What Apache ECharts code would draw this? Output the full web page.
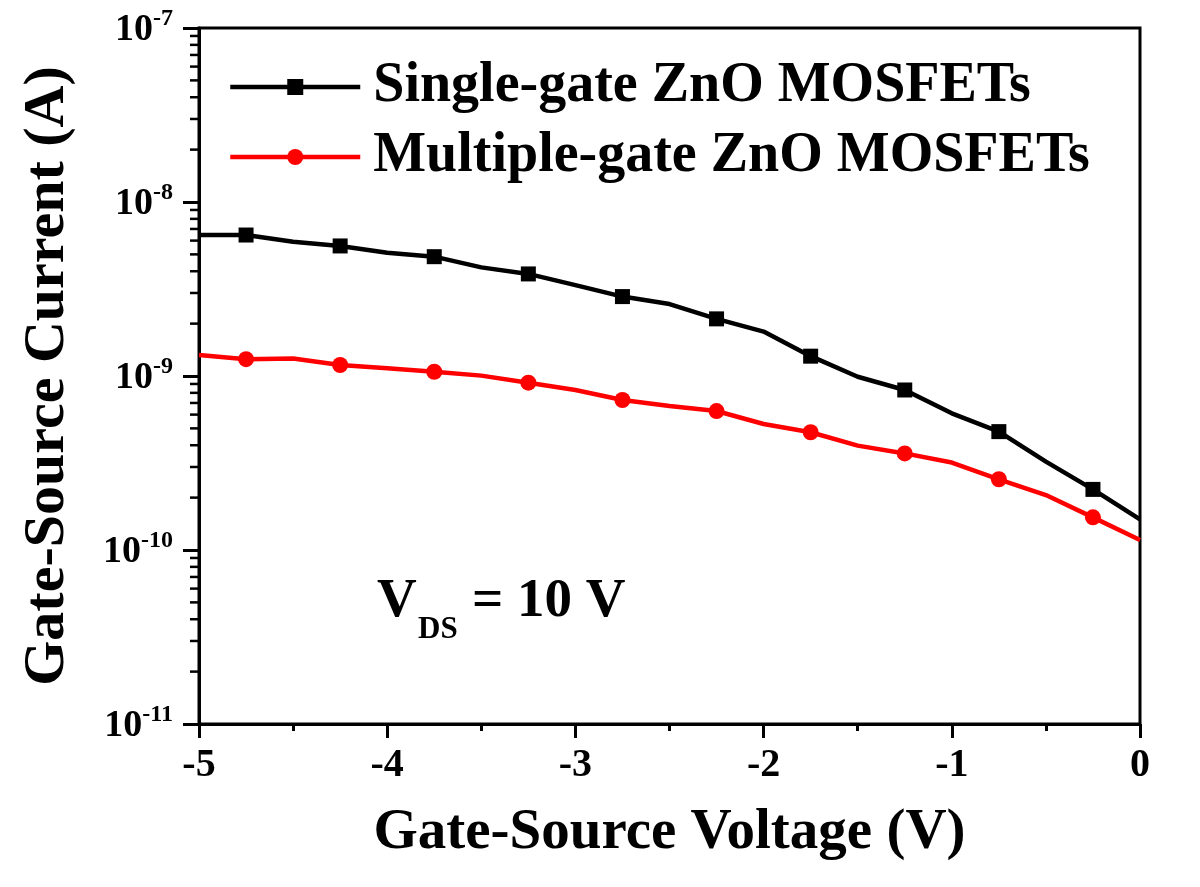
<!DOCTYPE html>
<html>
<head>
<meta charset="utf-8">
<script src="https://cdn.jsdelivr.net/npm/echarts@6/dist/echarts.min.js"></script>
<style>
html,body{margin:0;padding:0;background:#fff;}
#chart{width:1200px;height:887px;}
</style>
</head>
<body>
<div id="chart"></div>
<script>
// ---- data ----
const voltage = [-5, -4.75, -4.5, -4.25, -4, -3.75, -3.5, -3.25, -3, -2.75, -2.5, -2.25, -2, -1.75, -1.5, -1.25, -1, -0.75, -0.5, -0.25, 0];
const singleGate = [6.46e-9, 6.46e-9, 5.91e-9, 5.59e-9, 5.11e-9, 4.85e-9, 4.21e-9, 3.86e-9, 3.33e-9, 2.86e-9, 2.59e-9, 2.13e-9, 1.80e-9, 1.30e-9, 9.9e-10, 8.31e-10, 6.10e-10, 4.79e-10, 3.22e-10, 2.23e-10, 1.50e-10];
const multiGate = [1.32e-9, 1.25e-9, 1.26e-9, 1.157e-9, 1.107e-9, 1.058e-9, 1.005e-9, 9.15e-10, 8.31e-10, 7.28e-10, 6.72e-10, 6.29e-10, 5.30e-10, 4.75e-10, 3.98e-10, 3.59e-10, 3.18e-10, 2.55e-10, 2.07e-10, 1.54e-10, 1.14e-10];
const markerVoltages = [-4.75, -4.25, -3.75, -3.25, -2.75, -2.25, -1.75, -1.25, -0.75, -0.25];
const seriesNames = ['Single-gate ZnO MOSFETs', 'Multiple-gate ZnO MOSFETs'];
const xTitle = 'Gate-Source Voltage (V)';
const yTitle = 'Gate-Source Current (A)';
const yDecades = [-11, -10, -9, -8, -7];
const minorMultipliers = [2, 3, 4, 5, 6, 7, 8, 9];

const FONT = '"Liberation Serif", "Times New Roman", serif';

function buildData(vals) {
  return voltage.map((v, i) => {
    const item = { value: [v, vals[i]] };
    if (markerVoltages.indexOf(v) < 0) item.symbol = 'none';
    return item;
  });
}

const minorTickValues = [];
for (let d = 0; d < yDecades.length - 1; d++) {
  for (const m of minorMultipliers) minorTickValues.push([-5, m * Math.pow(10, yDecades[d])]);
}

const chart = echarts.init(document.getElementById('chart'));
chart.setOption({
  backgroundColor: '#fff',
  animation: false,
  grid: { left: 199, right: 60, top: 28, bottom: 163, show: true, borderColor: '#000', borderWidth: 3, backgroundColor: 'transparent' },
  legend: {
    data: seriesNames,
    orient: 'vertical',
    left: 223, top: 52,
    itemWidth: 130, itemHeight: 20, itemGap: 10,
    lineStyle: { width: 4.5 },
    textStyle: { fontFamily: FONT, fontWeight: 'bold', fontSize: 56, color: '#000', lineHeight: 60, padding: [0, 0, 0, 8] },
    selectedMode: false
  },
  xAxis: {
    type: 'value', min: -5, max: 0, interval: 1,
    name: xTitle, nameLocation: 'middle', nameGap: 81,
    nameTextStyle: { fontFamily: FONT, fontWeight: 'bold', fontSize: 57, color: '#000' },
    axisLine: { show: true, onZero: false, lineStyle: { color: '#000', width: 3 } },
    axisTick: { show: true, length: 14, lineStyle: { color: '#000', width: 3 } },
    minorTick: { show: true, splitNumber: 2, length: 7, lineStyle: { color: '#000', width: 3 } },
    splitLine: { show: false },
    axisLabel: { fontFamily: FONT, fontWeight: 'bold', fontSize: 40, color: '#000', margin: 22 }
  },
  yAxis: {
    type: 'log', logBase: 10, min: 1e-11, max: 1e-7,
    name: yTitle, nameLocation: 'middle', nameGap: 122, nameRotate: 90,
    nameTextStyle: { fontFamily: FONT, fontWeight: 'bold', fontSize: 58, color: '#000' },
    axisLine: { show: true, onZero: false, lineStyle: { color: '#000', width: 3 } },
    axisTick: { show: true, length: 16, lineStyle: { color: '#000', width: 3 } },
    minorTick: { show: false },
    splitLine: { show: false },
    axisLabel: {
      margin: 26,
      formatter: function (v) {
        const e = Math.round(Math.log10(v));
        return '{b|10}{e|' + e + '}';
      },
      rich: {
        b: { fontFamily: FONT, fontWeight: 'bold', fontSize: 38, color: '#000', lineHeight: 42, padding: [4, 0, 0, 0] },
        e: { fontFamily: FONT, fontWeight: 'bold', fontSize: 24, color: '#000', lineHeight: 24, verticalAlign: 'top' }
      }
    }
  },
  series: [
    {
      name: seriesNames[0], type: 'line', data: buildData(singleGate),
      symbol: 'rect', symbolSize: 15,
      lineStyle: { color: '#000', width: 4.5 }, itemStyle: { color: '#000' },
      z: 3
    },
    {
      name: seriesNames[1], type: 'line', data: buildData(multiGate),
      symbol: 'circle', symbolSize: 16,
      lineStyle: { color: '#ff0000', width: 4.5 }, itemStyle: { color: '#ff0000' },
      z: 2
    },
    {
      name: 'minorTicks', type: 'custom', data: minorTickValues, clip: false, silent: true,
      renderItem: function (params, api) {
        const p = api.coord([api.value(0), api.value(1)]);
        return { type: 'line', shape: { x1: p[0] - 9, y1: p[1], x2: p[0], y2: p[1] }, style: { stroke: '#000', lineWidth: 2.5 } };
      }
    }
  ],
  graphic: [
    { type: 'text', left: 377, top: 574, style: { text: 'V', fontFamily: FONT, fontWeight: 'bold', fontSize: 55, fill: '#000' } },
    { type: 'text', left: 418, top: 614, style: { text: 'DS', fontFamily: FONT, fontWeight: 'bold', fontSize: 31, fill: '#000' } },
    { type: 'text', left: 472, top: 574, style: { text: '= 10 V', fontFamily: FONT, fontWeight: 'bold', fontSize: 55, fill: '#000' } }
  ]
});
</script>
</body>
</html>
